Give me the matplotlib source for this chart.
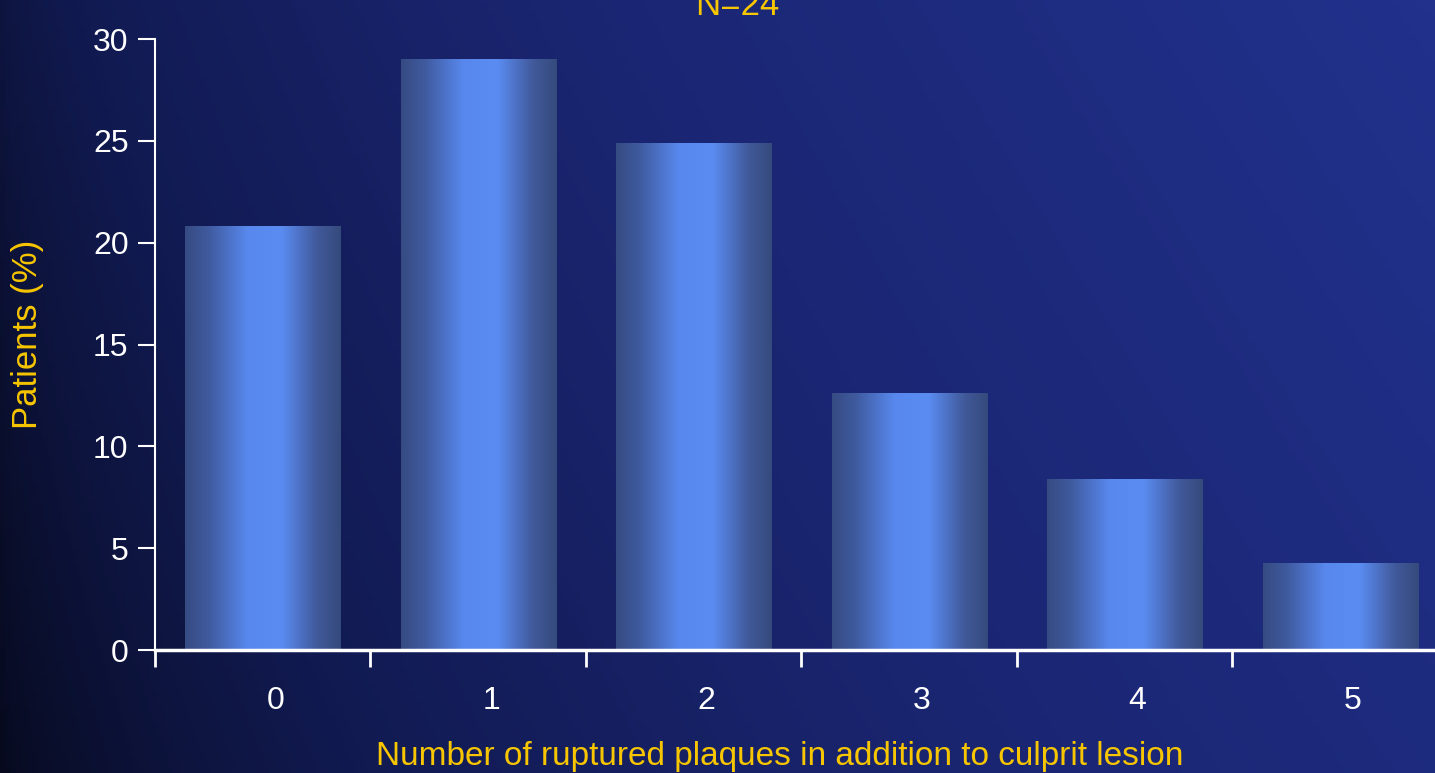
import numpy as np
import matplotlib.pyplot as plt
from matplotlib.colors import LinearSegmentedColormap

# values
categories = [0, 1, 2, 3, 4, 5]
patients_pct = [20.8, 29.0, 24.9, 12.6, 8.4, 4.3]
yticks = [0, 5, 10, 15, 20, 25, 30]

YELLOW = '#f7c600'
plt.rcParams['font.family'] = ['Liberation Sans', 'DejaVu Sans']

fig = plt.figure(figsize=(14.35, 7.73), dpi=100)

# dark navy background, brighter towards the top right
bg = fig.add_axes([0, 0, 1, 1], zorder=-10)
gx, gy = np.meshgrid(np.linspace(0, 1, 300), np.linspace(0, 1, 200))
g = np.clip(0.8 * gx ** 0.7 + 0.2 * gy, 0, 1)
bg_cmap = LinearSegmentedColormap.from_list(
    'bg', [(0.0, '#070a1e'), (0.3, '#111a50'), (0.6, '#1a2570'), (1.0, '#21318c')])
bg.imshow(g, cmap=bg_cmap, aspect='auto', extent=[0, 1, 0, 1], origin='lower')
bg.set_axis_off()

ax = fig.add_axes([0.108, 0.159, 0.892, 0.7905])
ax.patch.set_alpha(0)

bars = ax.bar(categories, patients_pct, width=0.72, color='none', zorder=2)

# horizontal shading across every bar
bar_cmap = LinearSegmentedColormap.from_list(
    'bar', [(0.0, '#364b82'), (0.15, '#3f5a9e'), (0.40, '#5888ee'),
            (0.62, '#5a8cf2'), (0.85, '#41599a'), (1.0, '#354a7c')])
shade = np.linspace(0, 1, 256).reshape(1, -1)
for b in bars:
    x0, w, h = b.get_x(), b.get_width(), b.get_height()
    im = ax.imshow(shade, cmap=bar_cmap, aspect='auto',
                   extent=[x0, x0 + w, 0, h], zorder=2)
    im.set_clip_path(b)

ax.set_xlim(-0.5, 5.44)
ax.set_ylim(0, 30)

ax.spines['top'].set_visible(False)
ax.spines['right'].set_visible(False)
ax.spines['left'].set_color('white')
ax.spines['left'].set_linewidth(1.5)
ax.spines['bottom'].set_color('white')
ax.spines['bottom'].set_linewidth(2.5)
ax.spines['bottom'].set_zorder(3)

ax.set_yticks(yticks)
ax.tick_params(axis='y', colors='white', labelsize=23, length=12, width=1.5,
               direction='out', pad=7)

# tick marks between categories, labels under each bar
ax.set_xticks(np.arange(-0.5, 5.5, 1.0))
ax.set_xticklabels([])
ax.tick_params(axis='x', which='major', colors='white', length=12, width=2,
               direction='out')
ax.set_xticks(np.array(categories) + 0.06, minor=True)
ax.set_xticklabels([str(c) for c in categories], minor=True)
ax.tick_params(axis='x', which='minor', length=0, labelsize=23,
               labelcolor='white', pad=26)

ax.set_xlabel('Number of ruptured plaques in addition to culprit lesion',
              color=YELLOW, fontsize=24)
ax.set_ylabel('Patients (%)', color=YELLOW, fontsize=25)
ax.xaxis.set_label_coords(0.488, -0.149)
ax.yaxis.set_label_coords(-0.0867, 0.516)

fig.text(0.5136, 1 - 15 / 773, 'N=24', color=YELLOW, fontsize=25,
         ha='center', va='baseline')

fig.savefig('out.png', dpi=100)
